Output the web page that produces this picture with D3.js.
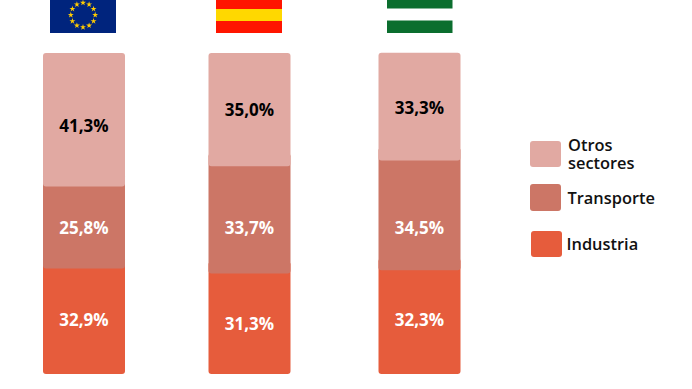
<!DOCTYPE html>
<html>
<head>
<meta charset="utf-8">
<script src="https://cdn.jsdelivr.net/npm/d3@7"></script>
<style>
  html, body { margin: 0; padding: 0; background: #fff; }
  svg { display: block; }
  text { font-family: "Open Sans", "Noto Sans", sans-serif; }
</style>
</head>
<body>
<div id="chart"></div>
<script>
// data
var regions = ["UE", "España", "Andalucía"];
var sectors = ["Industria", "Transporte", "Otros sectores"];
var industria = [32.9, 31.3, 32.3];
var transporte = [25.8, 33.7, 34.5];
var otros = [41.3, 35.0, 33.3];

var width = 692, height = 389;
var colors = { "Industria": "#e65c3c", "Transporte": "#cc7666", "Otros sectores": "#e1a9a2" };
var textColors = { "Industria": "#fff", "Transporte": "#fff", "Otros sectores": "#000" };

var svg = d3.select("#chart").append("svg")
  .attr("width", width)
  .attr("height", height);

var rows = regions.map(function(r, i) {
  return { region: r, "Industria": industria[i], "Transporte": transporte[i], "Otros sectores": otros[i] };
});

var stacked = d3.stack().keys(sectors)(rows);

// bars are not evenly spaced in the original
var x = d3.scaleOrdinal().domain(regions).range([43, 208.5, 378.5]);
var barWidth = 82;
var y = d3.scaleLinear().domain([0, 100]).range([374, 53]);

// lower segments run up behind the one above them
var overlap = 12;
var otrosDrop = 1;
var layers = svg.selectAll(".layer")
  .data(stacked)
  .enter().append("g")
  .attr("class", "layer")
  .attr("fill", function(d) { return colors[d.key]; });

layers.selectAll("rect")
  .data(function(d) { return d.map(function(v) { return { key: d.key, v: v, region: v.data.region }; }); })
  .enter().append("rect")
  .attr("x", function(d) { return x(d.region); })
  .attr("width", barWidth)
  .attr("y", function(d) { return y(d.v[1]) - (d.key === "Otros sectores" ? 0 : overlap); })
  .attr("height", function(d) {
    return y(d.v[0]) - y(d.v[1]) + (d.key === "Otros sectores" ? otrosDrop : overlap);
  })
  .attr("rx", 3);

// labels do not sit exactly at the middle of the segments
var labelY = {
  "Industria": [320, 324, 320],
  "Transporte": [228, 228, 228],
  "Otros sectores": [126, 110, 108]
};

stacked.forEach(function(s) {
  svg.selectAll(".label-" + s.index)
    .data(s)
    .enter().append("text")
    .attr("class", "label-" + s.index)
    .attr("x", function(d) { return x(d.data.region) + barWidth / 2; })
    .attr("y", function(d, i) { return labelY[s.key][i]; })
    .attr("dy", "0.35em")
    .attr("text-anchor", "middle")
    .attr("fill", textColors[s.key])
    .style("font-size", "17px")
    .style("font-weight", 700)
    .text(function(d) { return (d[1] - d[0]).toFixed(1).replace(".", ",") + "%"; });
});

// flags, cut by the top edge of the picture
var eu = svg.append("g");
eu.append("rect").attr("x", 50).attr("y", -10).attr("width", 66).attr("height", 43).attr("fill", "#00247d");
var star = d3.symbol().type(d3.symbolStar).size(11);
eu.selectAll("path")
  .data(d3.range(12))
  .enter().append("path")
  .attr("d", star)
  .attr("fill", "#ffcc00")
  .attr("transform", function(d) {
    var a = d * Math.PI / 6;
    return "translate(" + (83 + 12.2 * Math.sin(a)) + "," + (15 - 12.2 * Math.cos(a)) + ")";
  });

function flag(px, w, bands) {
  svg.append("g").selectAll("rect")
    .data(bands)
    .enter().append("rect")
    .attr("x", px)
    .attr("width", w)
    .attr("y", function(d) { return d[0]; })
    .attr("height", function(d) { return d[1] - d[0]; })
    .attr("fill", function(d) { return d[2]; });
}
flag(216, 66, [[-5, 9, "#ff1500"], [9, 21, "#ffd800"], [21, 33, "#ff1500"]]);
flag(387, 65.5, [[-5, 8.5, "#0b6e2e"], [20.5, 33, "#0b6e2e"]]);

// handmade legend
var legend = [
  { key: "Otros sectores", x: 530, y: 141, h: 26, lines: ["Otros", "sectores"], tx: 568, ty: 151 },
  { key: "Transporte", x: 530, y: 184, h: 27, lines: ["Transporte"], tx: 567.5, ty: 204 },
  { key: "Industria", x: 531, y: 231, h: 26, lines: ["Industria"], tx: 566.5, ty: 250 }
];

var items = svg.selectAll(".legend")
  .data(legend)
  .enter().append("g")
  .attr("class", "legend");

items.append("rect")
  .attr("x", function(d) { return d.x; })
  .attr("y", function(d) { return d.y; })
  .attr("width", 31)
  .attr("height", function(d) { return d.h; })
  .attr("rx", 3)
  .attr("fill", function(d) { return colors[d.key]; });

var legendText = items.append("text")
  .attr("y", function(d) { return d.ty; })
  .attr("fill", "#111")
  .style("font-size", "16.4px")
  .style("font-weight", 600);

legendText.selectAll("tspan")
  .data(function(d) { return d.lines.map(function(l) { return { line: l, tx: d.tx }; }); })
  .enter().append("tspan")
  .attr("x", function(d) { return d.tx; })
  .attr("dy", function(d, i) { return i ? 18 : 0; })
  .text(function(d) { return d.line; });
</script>
</body>
</html>
